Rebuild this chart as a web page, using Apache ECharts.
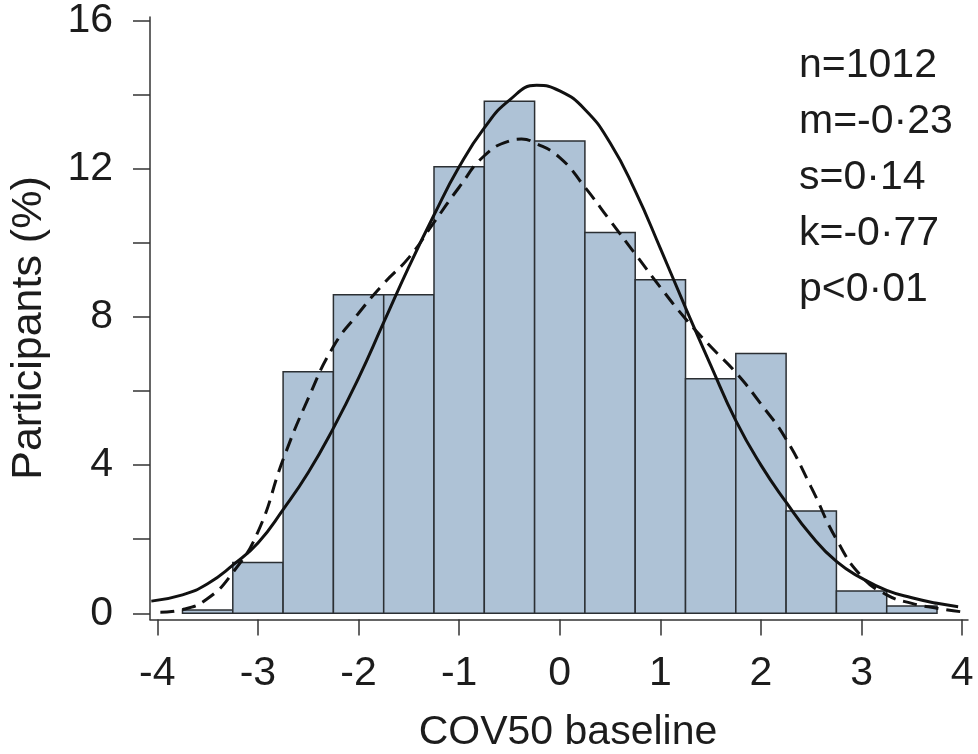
<!DOCTYPE html>
<html>
<head>
<meta charset="utf-8">
<script src="https://cdn.jsdelivr.net/npm/echarts@6/dist/echarts.min.js"></script>
<style>
  html, body { margin: 0; padding: 0; background: #fff; }
  #hist { width: 978px; height: 754px; }
</style>
</head>
<body>
<div id="hist"></div>
<script>
// histogram bins (COV50 baseline), bin edges and % of participants
const binEdges = [-3.75, -3.25, -2.75, -2.25, -1.75, -1.25, -0.75, -0.25, 0.25, 0.75, 1.25, 1.75, 2.25, 2.75, 3.25, 3.75];
const binPct = [0.09, 1.37, 6.52, 8.6, 8.6, 12.05, 13.82, 12.75, 10.28, 9.0, 6.33, 7.01, 2.76, 0.6, 0.2];

// solid curve (normal fit)
const normalX = [-4.06, -3.75, -3.5, -3.25, -3, -2.75, -2.5, -2.25, -2, -1.75, -1.5, -1.25, -1, -0.75, -0.5, -0.23, 0, 0.25, 0.5, 0.75, 1, 1.25, 1.5, 1.75, 2, 2.25, 2.5, 2.75, 3, 3.25, 3.5, 3.75, 3.96];
const normalY = [0.33, 0.5, 0.8, 1.3, 1.9, 2.8, 3.8, 5.0, 6.35, 7.85, 9.35, 10.75, 12.05, 13.1, 13.85, 14.25, 14.1, 13.6, 12.7, 11.4, 9.85, 8.25, 6.7, 5.2, 4.0, 3.0, 2.1, 1.4, 0.95, 0.62, 0.42, 0.27, 0.18];

// dashed curve (kernel density)
const kdeX = [-3.97, -3.75, -3.5, -3.25, -3, -2.75, -2.5, -2.25, -2, -1.75, -1.5, -1.25, -1, -0.75, -0.5, -0.38, -0.25, 0, 0.25, 0.5, 0.75, 1, 1.25, 1.5, 1.75, 2, 2.25, 2.5, 2.75, 3, 3.25, 3.5, 3.75, 4];
const kdeY = [0.03, 0.1, 0.4, 1.1, 2.2, 4.15, 5.8, 7.2, 8.1, 8.9, 9.6, 10.55, 11.5, 12.35, 12.75, 12.8, 12.7, 12.3, 11.5, 10.6, 9.7, 8.8, 7.95, 7.2, 6.5, 5.65, 4.7, 3.4, 2.0, 1.0, 0.5, 0.27, 0.14, 0.04];

const xTicks = [-4, -3, -2, -1, 0, 1, 2, 3, 4];
const yTicks = [0, 2, 4, 6, 8, 10, 12, 14, 16];
const yLabels = [0, 4, 8, 12, 16];
const statLines = ['n=1012', 'm=-0·23', 's=0·14', 'k=-0·77', 'p<0·01'];

const FONT = "'Liberation Sans', Arial, sans-serif";
const INK = '#1c1c1c';

let chart = echarts.init(document.getElementById('hist'), null, {renderer: 'canvas'});

let bars = binPct.map((v, i) => [binEdges[i], binEdges[i + 1], v]);
let normalLine = normalX.map((x, i) => [x, normalY[i]]);
let kdeLine = kdeX.map((x, i) => [x, kdeY[i]]);

let option = {
    animation: false,
    backgroundColor: '#fff',
    grid: {left: 150, right: 10, top: 13, bottom: 134.5, containLabel: false},
    xAxis: {
        type: 'value',
        min: -4.073,
        max: 4.058,
        axisLine: {show: true, onZero: false, lineStyle: {color: '#333', width: 1.5}},
        axisTick: {show: true, length: 16, customValues: xTicks, lineStyle: {color: '#333', width: 1.5}},
        axisLabel: {
            customValues: xTicks,
            margin: 34,
            fontSize: 41,
            fontFamily: FONT,
            color: INK
        },
        splitLine: {show: false}
    },
    yAxis: {
        type: 'value',
        min: -0.166,
        max: 16.094,
        axisLine: {show: true, onZero: false, lineStyle: {color: '#333', width: 1.5}},
        axisTick: {show: true, length: 17, customValues: yTicks, lineStyle: {color: '#333', width: 1.5}},
        axisLabel: {
            customValues: yLabels,
            margin: 37,
            fontSize: 41,
            fontFamily: FONT,
            color: INK
        },
        splitLine: {show: false}
    },
    graphic: [
        {
            type: 'text',
            x: 568, y: 733,
            style: {text: 'COV50 baseline', font: '41px ' + FONT, fill: INK, align: 'center', verticalAlign: 'middle'}
        },
        {
            type: 'text',
            x: 29, y: 328,
            rotation: Math.PI / 2,
            style: {text: 'Participants (%)', font: '43px ' + FONT, fill: INK, align: 'center', verticalAlign: 'middle'}
        },
        {
            type: 'text',
            x: 799, y: 38,
            style: {text: statLines.join('\n'), font: '41px ' + FONT, lineHeight: 56, fill: INK, align: 'left', verticalAlign: 'top'}
        }
    ],
    series: [
        {
            type: 'custom',
            data: bars,
            encode: {x: [0, 1], y: 2},
            renderItem: function (params, api) {
                let p0 = api.coord([api.value(0), api.value(2)]);
                let p1 = api.coord([api.value(1), 0]);
                return {
                    type: 'rect',
                    shape: {x: p0[0], y: p0[1], width: p1[0] - p0[0], height: p1[1] - p0[1]},
                    style: {fill: '#aec2d6', stroke: '#2b2f33', lineWidth: 1.5}
                };
            },
            z: 1
        },
        {
            type: 'line',
            data: kdeLine,
            smooth: true,
            showSymbol: false,
            lineStyle: {color: '#111', width: 3, type: [14, 8]},
            z: 3
        },
        {
            type: 'line',
            data: normalLine,
            smooth: true,
            showSymbol: false,
            lineStyle: {color: '#111', width: 3},
            z: 4
        }
    ]
};
chart.setOption(option);
</script>
</body>
</html>
